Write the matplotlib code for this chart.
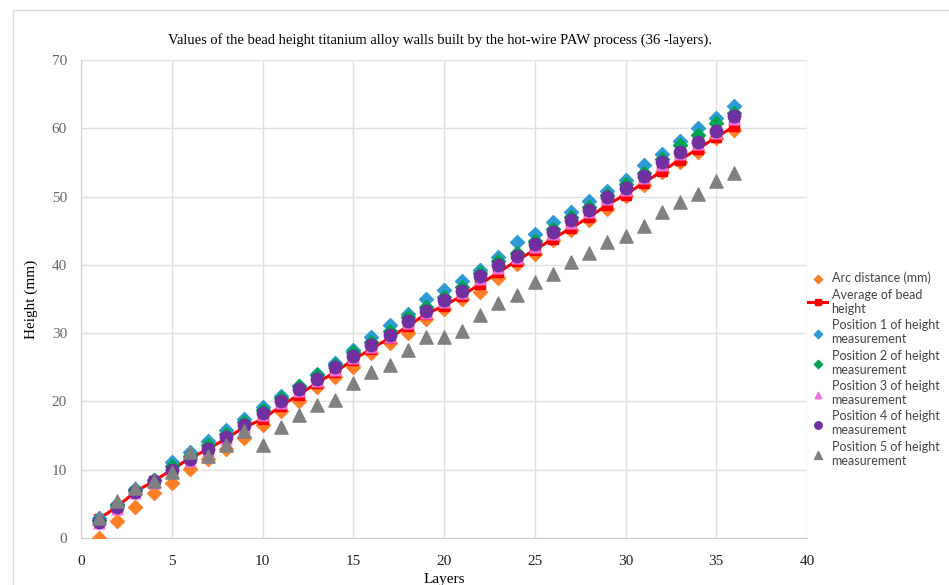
import matplotlib
matplotlib.use('Agg')
import matplotlib.pyplot as plt
from matplotlib.patches import Rectangle

layers = list(range(1, 37))

arc_distance = [0.0, 2.5, 4.5, 6.6, 8.1, 10.1, 11.6, 13.0, 14.6, 16.5, 18.6, 20.0,
                22.1, 23.6, 25.0, 27.1, 28.5, 30.0, 32.1, 33.5, 35.0, 36.0, 38.1, 40.1,
                41.6, 43.6, 45.1, 46.6, 48.2, 50.1, 51.7, 53.6, 55.1, 56.5, 58.6, 59.8]

average = [2.8, 4.6, 6.8, 8.3, 10.0, 11.7, 13.0, 14.6, 16.2, 17.4, 19.3, 21.0,
           22.7, 24.3, 26.1, 27.7, 29.3, 31.0, 32.8, 34.0, 35.5, 37.2, 38.9, 40.6,
           42.2, 43.8, 45.4, 47.0, 48.8, 50.3, 52.0, 53.7, 55.4, 57.0, 58.7, 60.3]

pos1 = [3.0, 5.0, 7.2, 8.5, 11.2, 12.6, 14.2, 15.8, 17.5, 19.2, 20.8, 22.3,
        24.0, 25.7, 27.5, 29.5, 31.2, 32.8, 35.0, 36.3, 37.7, 39.3, 41.2, 43.3,
        44.5, 46.3, 47.8, 49.3, 50.8, 52.5, 54.6, 56.3, 58.2, 60.0, 61.5, 63.2]

pos2 = [2.7, 4.9, 7.1, 8.5, 10.6, 12.0, 13.6, 15.3, 17.0, 18.8, 20.5, 22.3,
        23.8, 25.4, 27.2, 28.7, 30.3, 32.3, 33.8, 35.3, 36.7, 38.8, 40.5, 41.8,
        43.5, 45.3, 47.0, 48.5, 50.3, 51.8, 53.5, 55.5, 57.5, 59.0, 60.8, 62.3]

pos3 = [2.2, 4.3, 6.6, 8.1, 9.8, 11.3, 12.7, 14.5, 16.2, 18.0, 19.7, 21.5,
        23.0, 24.6, 26.4, 27.9, 29.5, 31.5, 33.0, 34.5, 35.9, 38.0, 39.6, 41.0,
        42.6, 44.5, 46.1, 47.7, 49.6, 51.0, 52.7, 54.6, 56.2, 57.7, 59.3, 61.4]

pos4 = [2.3, 4.5, 6.8, 8.3, 10.0, 11.6, 13.0, 14.8, 16.5, 18.3, 20.0, 21.8,
        23.3, 25.0, 26.7, 28.2, 29.8, 31.8, 33.3, 34.8, 36.2, 38.3, 40.0, 41.3,
        43.0, 44.8, 46.5, 48.0, 50.0, 51.3, 53.0, 55.0, 56.5, 58.0, 59.6, 61.8]

pos5 = [3.0, 5.4, 7.3, 8.3, 9.6, 12.6, 12.0, 13.6, 15.7, 13.6, 16.3, 18.0,
        19.5, 20.2, 22.7, 24.3, 25.3, 27.5, 29.4, 29.4, 30.3, 32.6, 34.4, 35.6,
        37.5, 38.7, 40.4, 41.7, 43.3, 44.2, 45.7, 47.7, 49.2, 50.4, 52.3, 53.4]

serif = ['Liberation Serif', 'DejaVu Serif']

fig = plt.figure(figsize=(9.49, 5.85), dpi=100)
fig.patches.append(Rectangle((13 / 949, -0.05), 1.0, 1.0 - 10 / 585 + 0.05,
                             transform=fig.transFigure, fill=False,
                             edgecolor='#d9d9d9', linewidth=1.0))
ax = fig.add_axes([81 / 949, 47 / 585, 726 / 949, 478 / 585])

ax.scatter(layers, arc_distance, marker='D', s=50, color='#ff7f27', zorder=3,
           label='Arc distance (mm)')
ax.plot(layers, average, color='#ff0000', linewidth=2.2, marker='s', markersize=6.5,
        zorder=4, label='Average of bead\nheight')
ax.scatter(layers, pos1, marker='D', s=50, color='#2e9bd6', zorder=5,
           label='Position 1 of height\nmeasurement')
ax.scatter(layers, pos2, marker='D', s=50, color='#00a550', zorder=6,
           label='Position 2 of height\nmeasurement')
ax.scatter(layers, pos3, marker='^', s=60, color='#f070e0', zorder=7,
           label='Position 3 of height\nmeasurement')
ax.scatter(layers, pos4, marker='o', s=80, color='#7030a0', zorder=8,
           label='Position 4 of height\nmeasurement')
ax.scatter(layers, pos5, marker='^', s=90, color='#808080', zorder=9,
           label='Position 5 of height\nmeasurement')

ax.set_xlim(0, 40)
ax.set_ylim(0, 70)
ax.set_xticks(range(0, 41, 5))
ax.set_yticks(range(0, 71, 10))
ax.grid(True, color='#e0e0e0', linewidth=1.0, zorder=0)
ax.set_axisbelow(True)
for side in ['top', 'right']:
    ax.spines[side].set_visible(False)
ax.spines['left'].set_color('#d0d0d0')
ax.spines['bottom'].set_color('#d0d0d0')
ax.tick_params(axis='x', length=0, pad=12)
ax.tick_params(axis='y', length=0, pad=10)
for lab in ax.get_xticklabels():
    lab.set_fontfamily(serif)
    lab.set_fontsize(11)
    lab.set_color('#222222')
for lab in ax.get_yticklabels():
    lab.set_fontfamily(serif)
    lab.set_fontsize(11)
    lab.set_color('#666666')

ax.set_xlabel('Layers', fontfamily=serif, fontsize=11, labelpad=4)
ax.set_ylabel('Height (mm)', fontfamily=serif, fontsize=11, labelpad=10)
fig.text(0.464, 0.932, 'Values of the bead height titanium alloy walls built by the '
         'hot-wire PAW process (36 -layers).', fontfamily=serif, fontsize=10.5,
         ha='center', va='center')

leg = ax.legend(loc='upper left', bbox_to_anchor=(0.99, 0.575), frameon=False,
                prop={'family': 'Lato', 'size': 9}, labelspacing=0.35,
                handlelength=1.5, handletextpad=0.35, markerscale=0.6,
                borderaxespad=0.3)
for t in leg.get_texts():
    t.set_color('#444444')

fig.savefig('out.png', dpi=100)
